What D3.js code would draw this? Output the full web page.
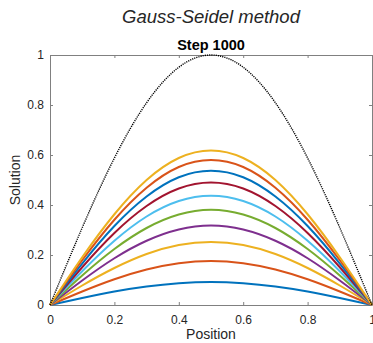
<!DOCTYPE html>
<html>
<head>
<meta charset="utf-8">
<script src="https://cdn.jsdelivr.net/npm/d3@7"></script>
<style>
  body { margin: 0; background: #fff; }
  svg { display: block; font-family: "Liberation Sans", Arial, sans-serif; }
</style>
</head>
<body>
<svg id="chart"></svg>
<script>
const positions = [0, 0.1, 0.2, 0.3, 0.4, 0.5, 0.6, 0.7, 0.8, 0.9, 1];

// exact solution (dotted)
const exact = [0, 0.309, 0.588, 0.809, 0.951, 1, 0.951, 0.809, 0.588, 0.309, 0];

// iterates, bottom to top
const iter1  = [0, 0.028, 0.054, 0.074, 0.087, 0.092, 0.087, 0.074, 0.054, 0.028, 0];
const iter2  = [0, 0.054, 0.103, 0.142, 0.167, 0.176, 0.167, 0.142, 0.103, 0.054, 0];
const iter3  = [0, 0.078, 0.148, 0.204, 0.240, 0.252, 0.240, 0.204, 0.148, 0.078, 0];
const iter4  = [0, 0.098, 0.187, 0.257, 0.302, 0.318, 0.302, 0.257, 0.187, 0.098, 0];
const iter5  = [0, 0.118, 0.224, 0.308, 0.362, 0.381, 0.362, 0.308, 0.224, 0.118, 0];
const iter6  = [0, 0.135, 0.257, 0.354, 0.416, 0.437, 0.416, 0.354, 0.257, 0.135, 0];
const iter7  = [0, 0.151, 0.288, 0.396, 0.466, 0.490, 0.466, 0.396, 0.288, 0.151, 0];
const iter8  = [0, 0.166, 0.316, 0.434, 0.511, 0.537, 0.511, 0.434, 0.316, 0.166, 0];
const iter9  = [0, 0.179, 0.341, 0.469, 0.552, 0.580, 0.552, 0.469, 0.341, 0.179, 0];
const iter10 = [0, 0.191, 0.363, 0.500, 0.588, 0.618, 0.588, 0.500, 0.363, 0.191, 0];

const iterates = [iter1, iter2, iter3, iter4, iter5, iter6, iter7, iter8, iter9, iter10];
const colors = ["#0072BD", "#D95319", "#EDB120", "#7E2F8E", "#77AC30",
                "#4DBEEE", "#A2142F", "#0072BD", "#D95319", "#EDB120"];

const xTicks = [0, 0.2, 0.4, 0.6, 0.8, 1];
const yTicks = [0, 0.2, 0.4, 0.6, 0.8, 1];

const width = 373, height = 343;
const margin = { top: 55, right: 1, bottom: 38, left: 50 };
const innerW = width - margin.left - margin.right;
const innerH = height - margin.top - margin.bottom;

const svg = d3.select("#chart").attr("width", width).attr("height", height);
const g = svg.append("g").attr("transform", `translate(${margin.left},${margin.top})`);

const x = d3.scaleLinear().domain([0, 1]).range([0, innerW]);
const y = d3.scaleLinear().domain([0, 1]).range([innerH, 0]);

const fmt = d => d3.format("~g")(d);
const axisColor = "#808080";
const textColor = "#262626";

function styleAxis(sel, showText) {
  sel.select(".domain").attr("stroke", axisColor).attr("stroke-width", 1);
  sel.selectAll(".tick line").attr("stroke", axisColor);
  sel.selectAll(".tick text").attr("fill", textColor).style("font-size", "12px")
    .style("display", showText ? null : "none");
}

g.append("g").attr("transform", `translate(0,${innerH})`)
  .call(d3.axisBottom(x).tickValues(xTicks).tickFormat(fmt).tickSizeInner(-3).tickSizeOuter(0).tickPadding(10))
  .call(s => styleAxis(s, true));
g.append("g")
  .call(d3.axisTop(x).tickValues(xTicks).tickSizeInner(-3).tickSizeOuter(0))
  .call(s => styleAxis(s, false));
g.append("g")
  .call(d3.axisLeft(y).tickValues(yTicks).tickFormat(fmt).tickSizeInner(-3).tickSizeOuter(0).tickPadding(6))
  .call(s => styleAxis(s, true));
g.append("g").attr("transform", `translate(${innerW},0)`)
  .call(d3.axisRight(y).tickValues(yTicks).tickSizeInner(-3).tickSizeOuter(0))
  .call(s => styleAxis(s, false));

const line = d3.line()
  .x((d, i) => x(positions[i]))
  .y(d => y(d))
  .curve(d3.curveNatural);

g.selectAll(".iter")
  .data(iterates)
  .enter()
  .append("path")
  .attr("class", "iter")
  .attr("d", line)
  .attr("fill", "none")
  .attr("stroke", (d, i) => colors[i])
  .attr("stroke-width", 2);

g.append("path")
  .attr("d", line(exact))
  .attr("fill", "none")
  .attr("stroke", "#000")
  .attr("stroke-width", 1.4)
  .attr("stroke-dasharray", "1.2,1");

// titles and labels
svg.append("text")
  .attr("x", margin.left + innerW / 2).attr("y", 23)
  .attr("text-anchor", "middle")
  .style("font-size", "18.5px").style("font-style", "italic")
  .attr("fill", textColor)
  .text("Gauss-Seidel method");

svg.append("text")
  .attr("x", margin.left + innerW / 2).attr("y", 50)
  .attr("text-anchor", "middle")
  .style("font-size", "14.5px").style("font-weight", "bold")
  .attr("fill", "#000")
  .text("Step 1000");

svg.append("text")
  .attr("x", margin.left + innerW / 2).attr("y", 339)
  .attr("text-anchor", "middle")
  .style("font-size", "14px")
  .attr("fill", textColor)
  .text("Position");

svg.append("text")
  .attr("transform", `translate(20,${margin.top + innerH / 2}) rotate(-90)`)
  .attr("text-anchor", "middle")
  .style("font-size", "14px")
  .attr("fill", textColor)
  .text("Solution");
</script>
</body>
</html>
